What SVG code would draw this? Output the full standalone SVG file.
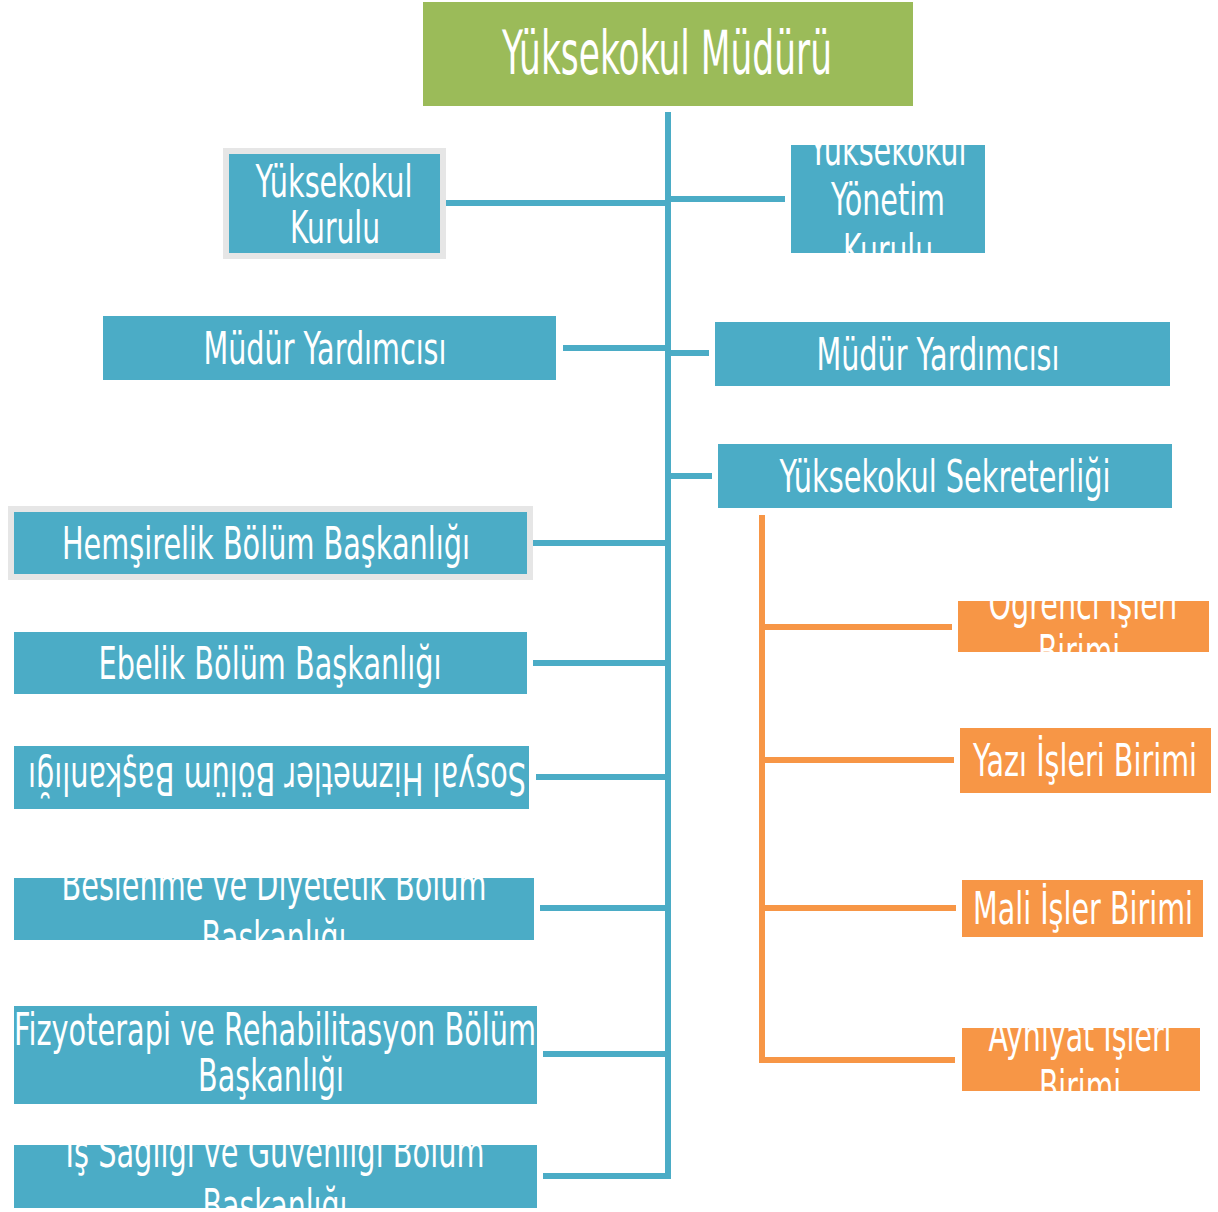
<svg xmlns="http://www.w3.org/2000/svg" width="1218" height="1212" viewBox="0 0 1218 1212">
<style>
.t{font-family:"DejaVu Sans","Liberation Sans",sans-serif;fill:#fff;font-size:45px;text-anchor:middle}
.t1{font-size:60px}
.b{fill:#4BACC6}
.o{fill:#F79646}
.g{fill:#E6E6E6}
.cb{stroke:#4BACC6;stroke-width:6;fill:none}
.co{stroke:#F79646;stroke-width:6;fill:none}
</style>
<defs>
<clipPath id="c3"><rect x="791" y="145" width="194" height="108"/></clipPath>
<clipPath id="c10"><rect x="14" y="878" width="520" height="62"/></clipPath>
<clipPath id="c12"><rect x="14" y="1145" width="523" height="63"/></clipPath>
<clipPath id="c13"><rect x="958" y="601" width="251" height="51"/></clipPath>
<clipPath id="c16"><rect x="962" y="1028" width="238" height="63"/></clipPath>
</defs>
<g id="connectors">
<path class="cb" d="M668 112V1179"/>
<path class="cb" d="M446 203H668M668 199H785M563 348H668M668 353H709M668 476H712M533 543H668M533 663H668M536 777H668M540 908H668M543 1054H668M543 1176H668"/>
<path class="co" d="M762 515V1063M762 627H952M762 760H954M762 908H956M762 1060H955"/>
</g>
<g id="n1"><rect x="423" y="2" width="490" height="104" fill="#9BBB59"/><text class="t t1" x="667" y="74" textLength="330" lengthAdjust="spacingAndGlyphs">Yüksekokul Müdürü</text></g>
<g id="n2"><rect class="g" x="223" y="148" width="223" height="111"/><rect class="b" x="229" y="154" width="211" height="99"/><text class="t" x="334" y="197" textLength="157" lengthAdjust="spacingAndGlyphs">Yüksekokul</text><text class="t" x="335" y="243" textLength="90" lengthAdjust="spacingAndGlyphs">Kurulu</text></g>
<g id="n3"><rect class="b" x="791" y="145" width="194" height="108"/><g clip-path="url(#c3)"><text class="t" x="888" y="165" textLength="157" lengthAdjust="spacingAndGlyphs">Yüksekokul</text><text class="t" x="888" y="215" textLength="114" lengthAdjust="spacingAndGlyphs">Yönetim</text><text class="t" x="888" y="266" textLength="90" lengthAdjust="spacingAndGlyphs">Kurulu</text></g></g>
<g id="n4"><rect class="b" x="103" y="316" width="453" height="64"/><text class="t" x="325" y="364" textLength="243" lengthAdjust="spacingAndGlyphs">Müdür Yardımcısı</text></g>
<g id="n5"><rect class="b" x="715" y="322" width="455" height="64"/><text class="t" x="938" y="370" textLength="243" lengthAdjust="spacingAndGlyphs">Müdür Yardımcısı</text></g>
<g id="n6"><rect class="b" x="718" y="444" width="454" height="64"/><text class="t" x="945" y="492" textLength="331" lengthAdjust="spacingAndGlyphs">Yüksekokul Sekreterliği</text></g>
<g id="n7"><rect class="g" x="8" y="506" width="525" height="74"/><rect class="b" x="14" y="512" width="513" height="62"/><text class="t" x="266" y="559" textLength="408" lengthAdjust="spacingAndGlyphs">Hemşirelik Bölüm Başkanlığı</text></g>
<g id="n8"><rect class="b" x="14" y="632" width="513" height="62"/><text class="t" x="270" y="679" textLength="343" lengthAdjust="spacingAndGlyphs">Ebelik Bölüm Başkanlığı</text></g>
<g id="n9"><rect class="b" x="14" y="746" width="515" height="63"/><text class="t" x="277" y="792" transform="rotate(180 277 777.5)" textLength="498" lengthAdjust="spacingAndGlyphs">Sosyal Hizmetler Bölüm Başkanlığı</text></g>
<g id="n10"><rect class="b" x="14" y="878" width="520" height="62"/><g clip-path="url(#c10)"><text class="t" x="274" y="900" textLength="425" lengthAdjust="spacingAndGlyphs">Beslenme ve Diyetetik Bölüm</text><text class="t" x="274" y="953" textLength="145" lengthAdjust="spacingAndGlyphs">Başkanlığı</text></g></g>
<g id="n11"><rect class="b" x="14" y="1006" width="523" height="98"/><text class="t" x="275" y="1045" textLength="522" lengthAdjust="spacingAndGlyphs">Fizyoterapi ve Rehabilitasyon Bölüm</text><text class="t" x="271" y="1091" textLength="146" lengthAdjust="spacingAndGlyphs">Başkanlığı</text></g>
<g id="n12"><rect class="b" x="14" y="1145" width="523" height="63"/><g clip-path="url(#c12)"><text class="t" x="275" y="1167" textLength="419" lengthAdjust="spacingAndGlyphs">İş Sağlığı ve Güvenliği Bölüm</text><text class="t" x="275" y="1221" textLength="145" lengthAdjust="spacingAndGlyphs">Başkanlığı</text></g></g>
<g id="n13"><rect class="o" x="958" y="601" width="251" height="51"/><g clip-path="url(#c13)"><text class="t" x="1083" y="619" textLength="189" lengthAdjust="spacingAndGlyphs">Öğrenci İşleri</text><text class="t" x="1079" y="667" textLength="82" lengthAdjust="spacingAndGlyphs">Birimi</text></g></g>
<g id="n14"><rect class="o" x="960" y="728" width="251" height="65"/><text class="t" x="1085" y="776" textLength="224" lengthAdjust="spacingAndGlyphs">Yazı İşleri Birimi</text></g>
<g id="n15"><rect class="o" x="962" y="880" width="241" height="57"/><text class="t" x="1083" y="924" textLength="220" lengthAdjust="spacingAndGlyphs">Mali İşler Birimi</text></g>
<g id="n16"><rect class="o" x="962" y="1028" width="238" height="63"/><g clip-path="url(#c16)"><text class="t" x="1080" y="1051" textLength="183" lengthAdjust="spacingAndGlyphs">Ayniyat İşleri</text><text class="t" x="1080" y="1102" textLength="82" lengthAdjust="spacingAndGlyphs">Birimi</text></g></g>
</svg>
